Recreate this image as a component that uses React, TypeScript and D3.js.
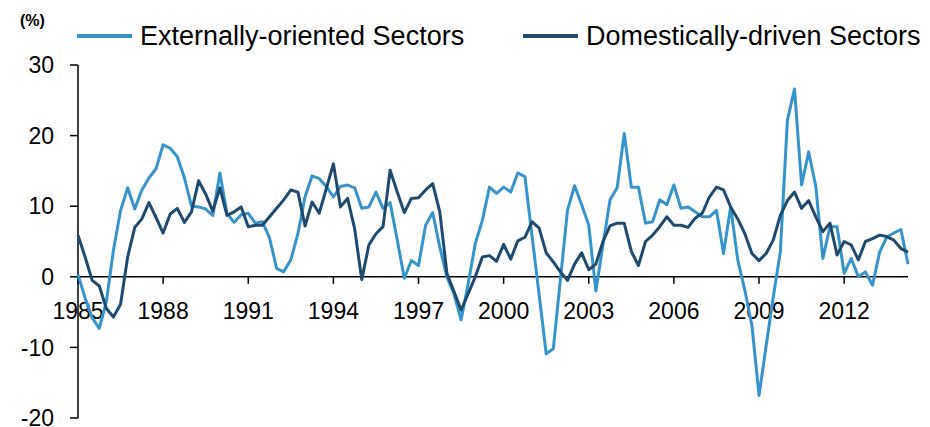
import React from "react";
import * as d3 from "d3";

const startYear = 1985;
const tickYears = [1985, 1988, 1991, 1994, 1997, 2000, 2003, 2006, 2009, 2012];
const yTicks = [-20, -10, 0, 10, 20, 30];
const seriesNames = ["Externally-oriented Sectors", "Domestically-driven Sectors"];

// Quarterly data, 1985Q1 .. 2014Q2 (118 quarters)
const externalSectors = [
  0.3, -3.0, -5.8, -7.3, -3.5, 3.8, 9.4, 12.6, 9.6, 12.3, 14.0, 15.3,
  18.7, 18.2, 17.0, 14.0, 10.0, 9.9, 9.6, 8.7, 14.7, 9.0, 7.7, 8.8,
  9.0, 7.6, 7.8, 5.5, 1.2, 0.7, 2.4, 6.1, 11.3, 14.3, 13.9, 12.8,
  11.3, 12.8, 13.0, 12.6, 9.7, 9.9, 12.0, 9.7, 10.5, 5.2, -0.2, 2.3,
  1.6, 7.3, 9.1, 4.2, 0.0, -2.4, -6.1, -1.0, 4.7, 8.0, 12.7, 11.8,
  12.7, 12.0, 14.7, 14.2, 5.8, -2.5, -10.9, -10.2, -0.4, 9.4, 12.9, 10.2,
  7.3, -2.0, 4.5, 10.9, 12.6, 20.3, 12.7, 12.7, 7.6, 7.8, 10.9, 10.2,
  13.0, 9.7, 9.9, 9.2, 8.5, 8.5, 9.4, 3.3, 9.9, 2.4, -1.9, -6.9,
  -16.8, -9.8, -2.9, 3.5, 22.2, 26.6, 13.0, 17.7, 12.8, 2.6, 7.1, 7.1,
  0.5, 2.6, 0.0, 0.7, -1.2, 3.5, 5.6, 6.2, 6.7, 1.8,
];

const domesticSectors = [
  5.9, 2.8, -0.5, -1.3, -4.5, -5.7, -3.9, 2.8, 7.0, 8.2, 10.5, 8.4,
  6.2, 8.9, 9.7, 7.7, 9.2, 13.6, 11.7, 9.3, 12.6, 8.7, 9.2, 9.9,
  7.1, 7.3, 7.3, 8.5, 9.7, 10.9, 12.3, 12.0, 7.2, 10.6, 9.0, 12.5,
  16.0, 9.9, 11.1, 6.8, -0.4, 4.5, 6.1, 7.1, 15.1, 12.0, 9.1, 11.1,
  11.2, 12.3, 13.2, 9.2, 0.5, -2.1, -4.7, -2.4, 0.0, 2.8, 3.0, 2.2,
  4.6, 2.5, 5.1, 5.6, 7.8, 6.9, 3.4, 2.1, 0.7, -0.5, 1.8, 3.4,
  1.0, 1.8, 5.0, 7.2, 7.6, 7.6, 3.6, 1.6, 5.0, 5.9, 7.1, 8.5,
  7.3, 7.3, 7.0, 8.3, 9.0, 11.3, 12.7, 12.3, 9.9, 8.2, 6.1, 3.3,
  2.3, 3.3, 5.2, 8.7, 10.8, 12.0, 9.7, 10.8, 8.5, 6.4, 7.6, 3.1,
  5.0, 4.5, 2.4, 5.0, 5.4, 5.9, 5.7, 5.2, 4.0, 3.5,
];

const colors = ["#3694CC", "#1F4A6F"];

export default function App() {
  const W = 930;
  const H = 427;
  const n = externalSectors.length;
  const x = d3.scaleLinear().domain([0, n - 1]).range([78, 908]);
  const y = d3.scaleLinear().domain([-20, 30]).range([418, 65]);
  const line = d3
    .line<number>()
    .x((_, i) => x(i))
    .y((d) => y(d));
  const font = "'Liberation Sans', Arial, sans-serif";
  const series = [externalSectors, domesticSectors];
  const legendX = [77, 523];

  return (
    <svg
      width={W}
      height={H}
      style={{ position: "absolute", left: 0, top: 0, background: "#fff" }}
      fontFamily={font}
    >
      <text x={20} y={26} fontSize={16} fontWeight="bold" fill="#000">
        (%)
      </text>
      {seriesNames.map((name, k) => (
        <g key={name}>
          <line
            x1={legendX[k]}
            x2={legendX[k] + 55}
            y1={36}
            y2={36}
            stroke={colors[k]}
            strokeWidth={4}
          />
          <text x={legendX[k] + 63} y={45} fontSize={27} fill="#000">
            {name}
          </text>
        </g>
      ))}
      {/* y axis */}
      <line x1={x(0)} x2={x(0)} y1={y(30)} y2={y(-20)} stroke="#000" strokeWidth={1.5} />
      {yTicks.map((t) => (
        <g key={t}>
          <line x1={x(0) - 8} x2={x(0)} y1={y(t)} y2={y(t)} stroke="#000" strokeWidth={1.5} />
          <text
            x={54}
            y={y(t)}
            dy="0.36em"
            textAnchor="end"
            fontSize={23}
            fill="#000"
          >
            {t}
          </text>
        </g>
      ))}
      {/* x axis at zero */}
      <line x1={x(0)} x2={x(n - 1)} y1={y(0)} y2={y(0)} stroke="#000" strokeWidth={1.5} />
      {tickYears.map((yr) => {
        const i = (yr - startYear) * 4;
        return (
          <g key={yr}>
            <line x1={x(i)} x2={x(i)} y1={y(0)} y2={y(0) + 7} stroke="#000" strokeWidth={1.5} />
            <text x={x(i)} y={y(0) + 42} textAnchor="middle" fontSize={23} fill="#000">
              {yr}
            </text>
          </g>
        );
      })}
      {series.map((s, k) => (
        <path
          key={k}
          d={line(s) || ""}
          fill="none"
          stroke={colors[k]}
          strokeWidth={3}
          strokeLinejoin="round"
        />
      ))}
    </svg>
  );
}
